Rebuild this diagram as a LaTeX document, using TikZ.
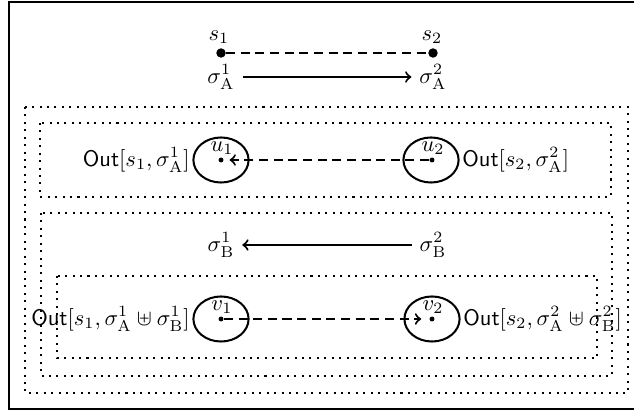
\documentclass[tikz,border=0pt]{standalone}
\usetikzlibrary{shapes.geometric}
\begin{document}
\begin{tikzpicture}[x=0.444pt,y=-0.444pt,
  dotbox/.style={line width=0.9pt, dash pattern=on 0.9pt off 2.4pt},
  bigdot/.style={circle,fill,inner sep=0pt,minimum size=4.2pt},
  smalldot/.style={circle,fill,inner sep=0pt,minimum size=2.2pt},
  oval/.style={ellipse,draw,line width=0.9pt,minimum width=24.5pt,minimum height=20pt,inner sep=0pt},
  conn/.style={line width=0.9pt,->},
  dashconn/.style={line width=0.9pt,dash pattern=on 4pt off 2.5pt,->},
  dashline/.style={line width=0.9pt,dash pattern=on 4pt off 2.5pt},
  outl/.style={inner sep=1pt}
]
\useasboundingbox (0,0) rectangle (634,412);
\draw[line width=1pt] (9,2) rectangle (660,409);

% dotted boxes
\draw[dotbox] (25,107) rectangle (628,393);
\draw[dotbox] (40,123) rectangle (611,197);
\draw[dotbox] (41,213) rectangle (612,376);
\draw[dotbox] (57,276) rectangle (597,358);

% top row
\node[bigdot] (s1) at (221,53) {};
\node[bigdot] (s2) at (433,53) {};
\node (s1l) at (219,37) {$s_1$};
\node (s2l) at (432,37) {$s_2$};
\draw[dashline] (s1) -- (s2);
\node (sA1) at (221,77) {$\sigma^1_{\mathrm{A}}$};
\node (sA2) at (433,77) {$\sigma^2_{\mathrm{A}}$};
\draw[conn] (sA1) -- (sA2);

% u row
\node[oval] (u1) at (221,160) {};
\node[smalldot] (u1d) at (221,160) {};
\node (u1l) at (222,148) {$u_1$};
\node[oval] (u2) at (431,160) {};
\node[smalldot] (u2d) at (432,160) {};
\node (u2l) at (433,148) {$u_2$};
\node[outl,anchor=east] (o1) at (u1.west) {$\mathsf{Out}[s_1,\sigma^1_{\mathrm{A}}]$};
\node[outl,anchor=west] (o2) at (u2.east) {$\mathsf{Out}[s_2,\sigma^2_{\mathrm{A}}]$};
\draw[dashconn,shorten >=2.5pt] (u2d) -- (u1d);

% sigma B
\node (sB1) at (221,245) {$\sigma^1_{\mathrm{B}}$};
\node (sB2) at (433,245) {$\sigma^2_{\mathrm{B}}$};
\draw[conn] (sB2) -- (sB1);

% v row
\node[oval] (v1) at (221,319) {};
\node[smalldot] (v1d) at (221,319) {};
\node (v1l) at (222,307) {$v_1$};
\node[oval] (v2) at (432,319) {};
\node[smalldot] (v2d) at (432,319) {};
\node (v2l) at (433,307) {$v_2$};
\node[outl,anchor=east] (o3) at (v1.west) {$\mathsf{Out}[s_1,\sigma^1_{\mathrm{A}}\uplus\sigma^1_{\mathrm{B}}]$};
\node[outl,anchor=west] (o4) at (v2.east) {$\mathsf{Out}[s_2,\sigma^2_{\mathrm{A}}\uplus\sigma^2_{\mathrm{B}}]$};
\draw[dashconn,shorten >=3.5pt] (v1d) -- (v2d);
\end{tikzpicture}
\end{document}
